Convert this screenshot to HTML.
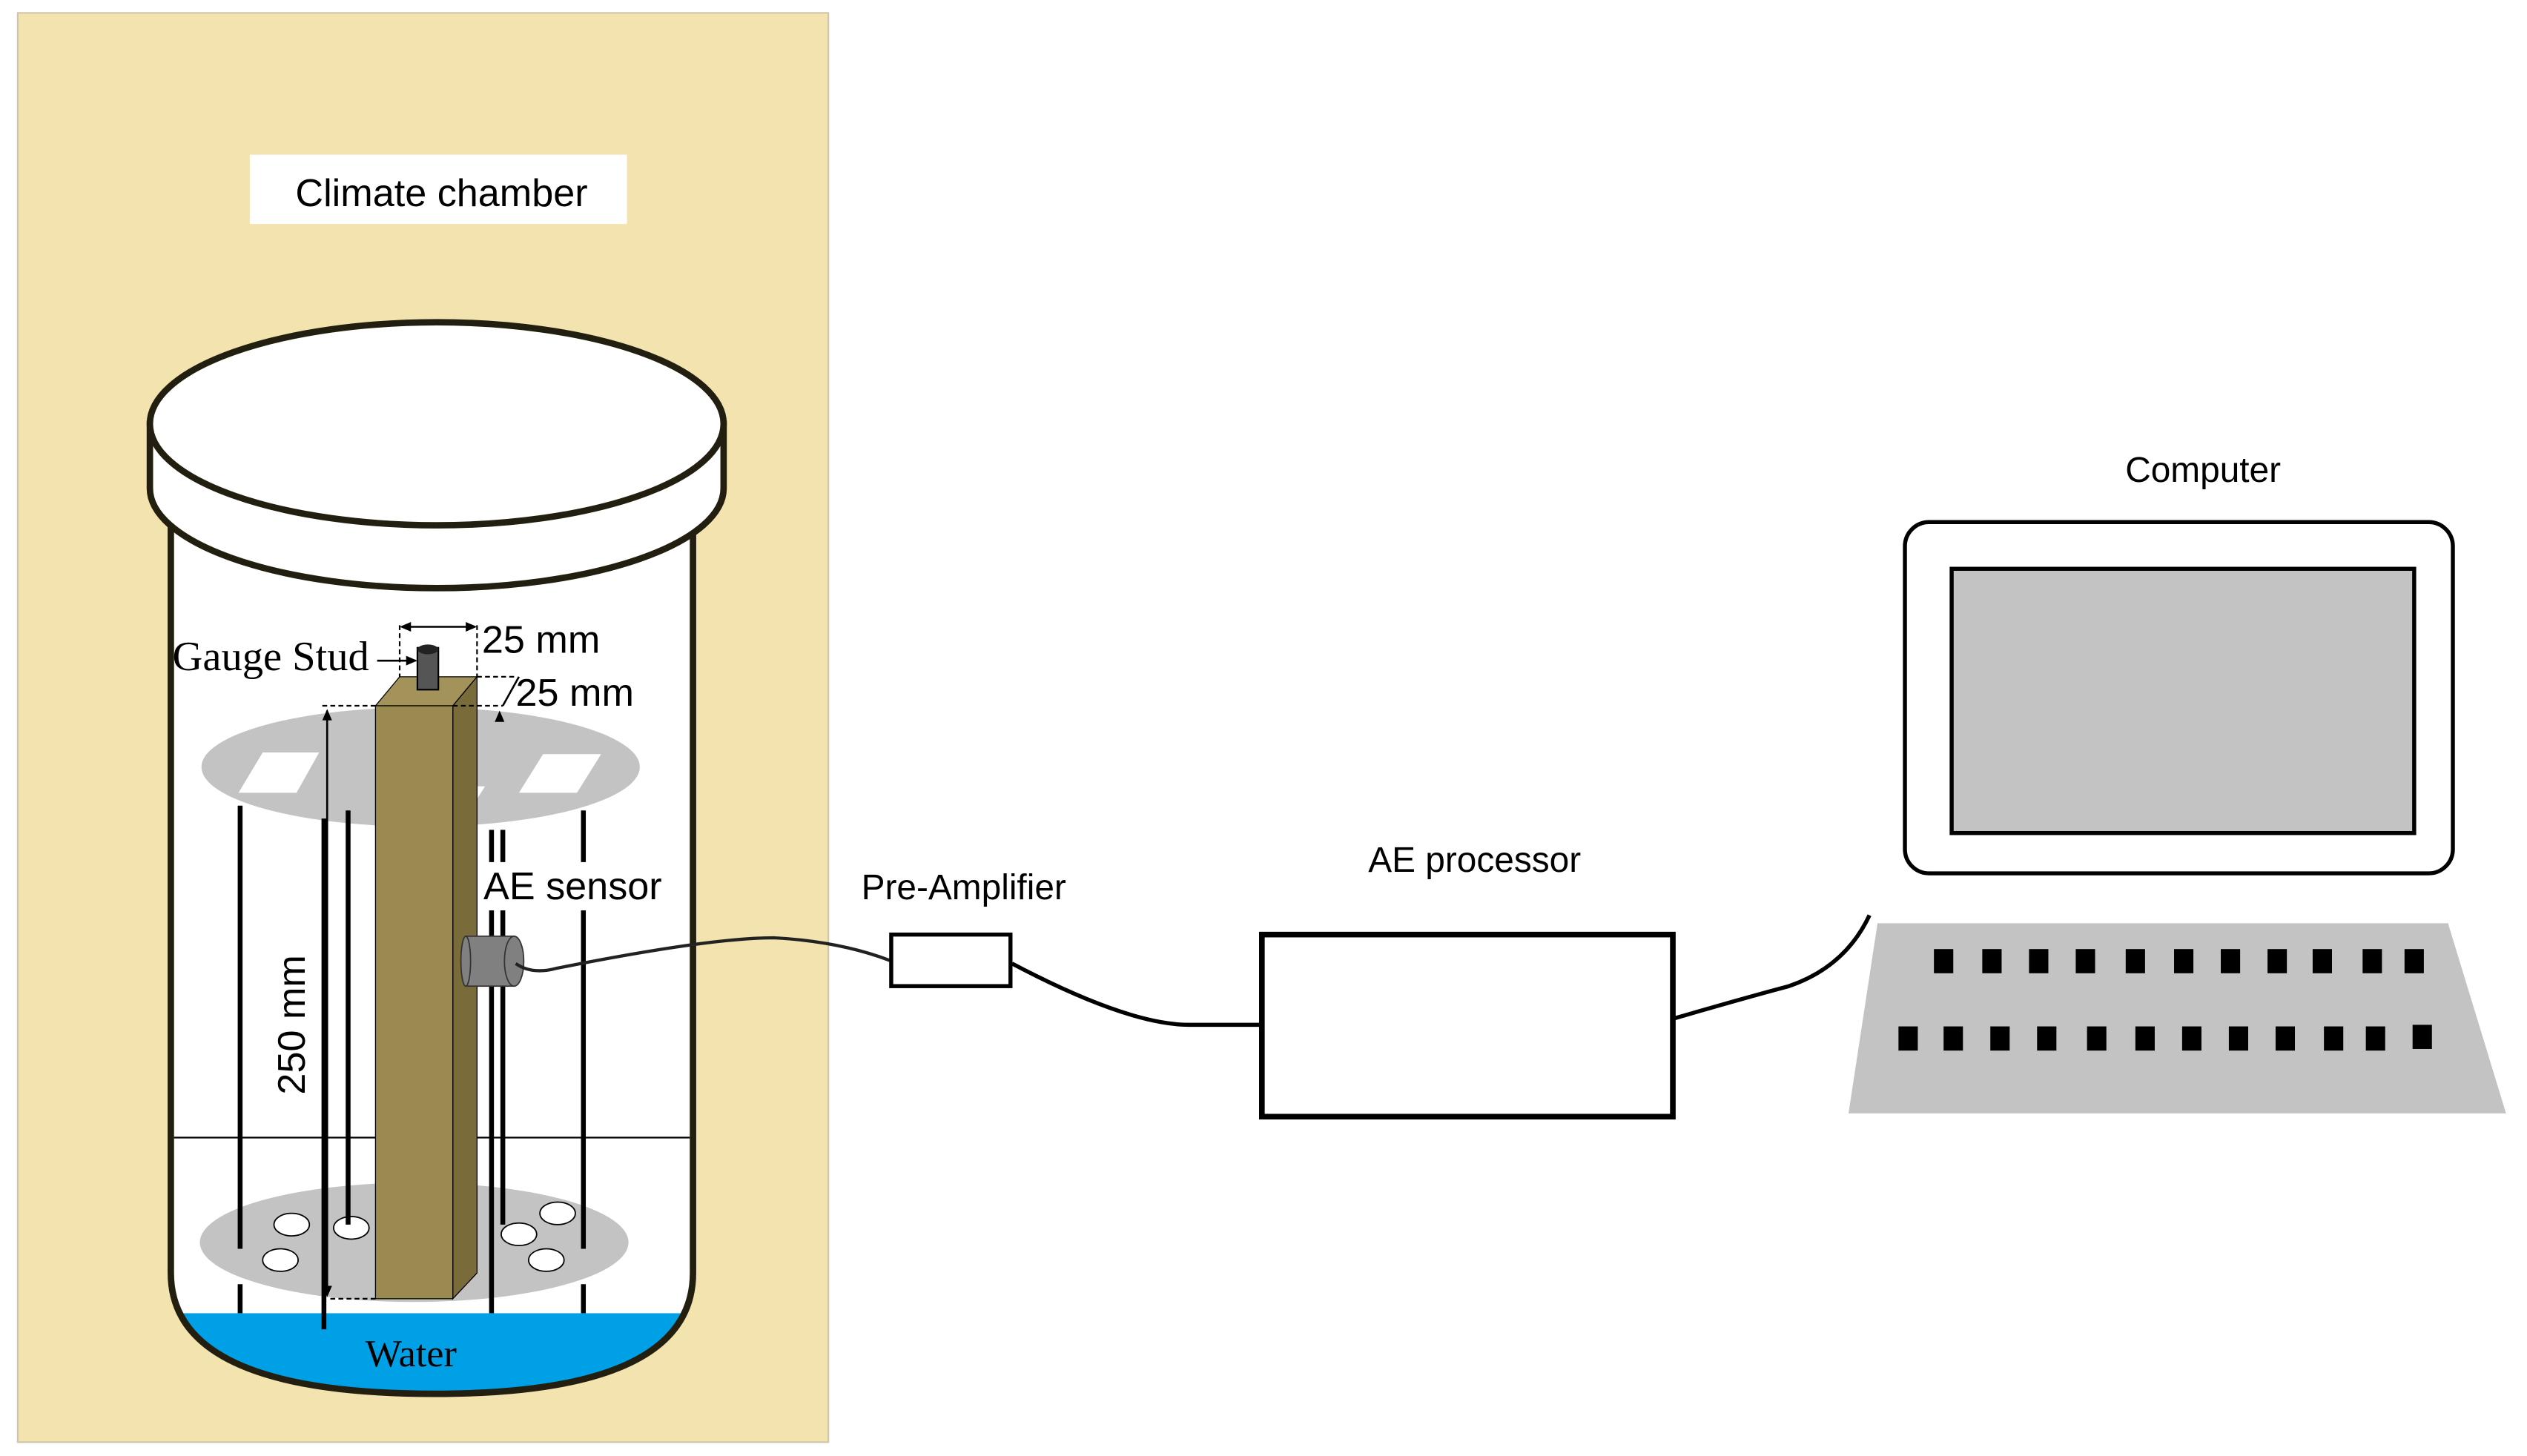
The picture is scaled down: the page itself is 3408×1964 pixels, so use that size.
<!DOCTYPE html>
<html><head><meta charset="utf-8"><style>
html,body{margin:0;padding:0;background:#fff;}
svg{display:block;}
text{font-family:"Liberation Sans",sans-serif;fill:#000;}
.serif{font-family:"Liberation Serif",serif;}
</style></head><body>
<svg width="3408" height="1964" viewBox="0 0 1568 903.6" preserveAspectRatio="none" xmlns="http://www.w3.org/2000/svg">
<defs><clipPath id="jar"><path d="M106,320 L106,790 Q106,865 270,865 Q430,865 430,790 L430,320 Z"/></clipPath></defs>
<rect x="0" y="0" width="1568" height="904" fill="#fff"/>
<rect x="11" y="8" width="503" height="887" fill="#f3e3ae" stroke="#cfc6a8" stroke-width="1"/>
<rect x="155" y="96" width="234" height="43" fill="#fff"/>
<text x="274" y="128" font-size="24" text-anchor="middle">Climate chamber</text>

<path d="M106,320 L106,790 Q106,865 270,865 Q430,865 430,790 L430,320 Z" fill="#fff"/>
<rect x="100" y="815" width="340" height="60" fill="#00a0e6" clip-path="url(#jar)"/>
<path d="M106,320 L106,790 Q106,865 270,865 Q430,865 430,790 L430,320" fill="none" stroke="#231f10" stroke-width="4"/>
<line x1="108" y1="706" x2="428" y2="706" stroke="#000" stroke-width="1"/>

<path d="M93,263 L93,303 A178,62 0 0 0 449,303 L449,263 Z" fill="#fff" stroke="#231f10" stroke-width="4"/>
<ellipse cx="271" cy="263" rx="178" ry="63" fill="#fff" stroke="#231f10" stroke-width="4"/>

<ellipse cx="261" cy="476" rx="136" ry="37" fill="#c3c3c3"/>
<polygon points="163,467 198,467 184,492 148,492" fill="#fff"/>
<polygon points="337,468 373,468 358,492 322,492" fill="#fff"/>
<polygon points="254,488 301,488 287,510 240,510" fill="#fff"/>
<ellipse cx="257" cy="771" rx="133" ry="37" fill="#c3c3c3"/>
<g fill="#fff" stroke="#000" stroke-width="0.8">
<ellipse cx="181" cy="760" rx="11" ry="7"/><ellipse cx="174" cy="782" rx="11" ry="7"/>
<ellipse cx="218" cy="762" rx="11" ry="7"/><ellipse cx="322" cy="766" rx="11" ry="7"/>
<ellipse cx="346" cy="753" rx="11" ry="7"/><ellipse cx="339" cy="782" rx="11" ry="7"/>
</g>
<g stroke="#000" stroke-width="3">
<line x1="149" y1="500" x2="149" y2="775"/><line x1="149" y1="797" x2="149" y2="815"/>
<line x1="216" y1="503" x2="216" y2="760"/><line x1="201" y1="508" x2="201" y2="825"/>
<line x1="305" y1="515" x2="305" y2="535"/><line x1="312" y1="515" x2="312" y2="535"/>
<line x1="305" y1="565" x2="305" y2="815"/><line x1="312" y1="565" x2="312" y2="760"/>
<line x1="362" y1="503" x2="362" y2="535"/><line x1="362" y1="565" x2="362" y2="775"/><line x1="362" y1="797" x2="362" y2="815"/>
</g>
<polygon points="233,438 248,420 296,420 281,438" fill="#a3935a" stroke="#000" stroke-width="0.6"/>
<polygon points="281,438 296,420 296,790 281,806" fill="#7a6c3a" stroke="#000" stroke-width="0.6"/>
<rect x="233" y="438" width="48" height="368" fill="#9a8a50" stroke="#000" stroke-width="0.6"/>
<rect x="259" y="402" width="13" height="26" fill="#555" stroke="#000"/>
<ellipse cx="265.5" cy="403" rx="6.5" ry="3" fill="#222"/>
<g stroke="#000" stroke-width="1" stroke-dasharray="3,2" fill="none">
<line x1="248" y1="388" x2="248" y2="420"/><line x1="296" y1="388" x2="296" y2="420"/>
<line x1="296" y1="420" x2="320" y2="420"/><line x1="200" y1="438" x2="233" y2="438"/>
<line x1="281" y1="438" x2="312" y2="438"/><line x1="205" y1="806" x2="233" y2="806"/>
</g>
<g stroke="#000" stroke-width="1.2">
<line x1="250" y1="389" x2="294" y2="389"/><line x1="203" y1="441" x2="203" y2="803"/>
<line x1="234" y1="410" x2="258" y2="410"/><line x1="312" y1="438" x2="322" y2="420"/>
</g>
<g fill="#000">
<polygon points="248,389 255,386 255,392"/><polygon points="296,389 289,386 289,392"/>
<polygon points="259,410 252,407 252,413"/>
<polygon points="203,440 200,447 206,447"/><polygon points="203,805 200,798 206,798"/>
<polygon points="310,441 307,448 313,448"/>
</g>
<text class="serif" x="107" y="416" font-size="26">Gauge Stud</text>
<text x="299" y="405" font-size="24">25 mm</text>
<text x="320" y="438" font-size="24">25 mm</text>
<text x="300" y="558" font-size="24">AE sensor</text>
<text x="0" y="0" font-size="24" text-anchor="middle" transform="translate(189,636) rotate(-90)">250 mm</text>
<text class="serif" x="255" y="848" font-size="24" text-anchor="middle">Water</text>

<rect x="289" y="581" width="30" height="31" fill="#808080" stroke="#333" stroke-width="0.8"/>
<ellipse cx="289" cy="596.5" rx="3" ry="15.5" fill="#808080" stroke="#333" stroke-width="0.8"/>
<ellipse cx="319" cy="596.5" rx="6" ry="15.5" fill="#808080" stroke="#333" stroke-width="0.8"/>
<path d="M320,598 Q330,605 345,601 Q440,582 480,582 Q520,584 552,596" fill="none" stroke="#222" stroke-width="2"/>

<rect x="553" y="580" width="74" height="32" fill="#fff" stroke="#000" stroke-width="2.5"/>
<path d="M628,598 Q700,636 738,636 L783,636" fill="none" stroke="#000" stroke-width="2.5"/>
<rect x="783" y="580" width="255" height="113" fill="#fff" stroke="#000" stroke-width="3.5"/>
<path d="M1039,632 Q1080,620 1110,612 Q1145,600 1160,568" fill="none" stroke="#000" stroke-width="2.5"/>
<text x="598" y="558" font-size="22" text-anchor="middle">Pre-Amplifier</text>
<text x="915" y="541" font-size="22" text-anchor="middle">AE processor</text>
<text x="1367" y="299" font-size="22" text-anchor="middle">Computer</text>

<rect x="1182" y="324" width="340" height="218" rx="15" fill="#fff" stroke="#000" stroke-width="2.5"/>
<rect x="1211" y="353" width="287" height="164" fill="#c3c3c3" stroke="#000" stroke-width="2.5"/>
<polygon points="1165,573 1519,573 1555,691 1147,691" fill="#c3c3c3"/>
<g fill="#000">
<rect x="1200" y="589" width="12" height="15"/><rect x="1230" y="589" width="12" height="15"/>
<rect x="1259" y="589" width="12" height="15"/><rect x="1288" y="589" width="12" height="15"/>
<rect x="1319" y="589" width="12" height="15"/><rect x="1349" y="589" width="12" height="15"/>
<rect x="1378" y="589" width="12" height="15"/><rect x="1407" y="589" width="12" height="15"/>
<rect x="1435" y="589" width="12" height="15"/><rect x="1466" y="589" width="12" height="15"/>
<rect x="1492" y="589" width="12" height="15"/>
<rect x="1178" y="637" width="12" height="15"/><rect x="1206" y="637" width="12" height="15"/>
<rect x="1235" y="637" width="12" height="15"/><rect x="1264" y="637" width="12" height="15"/>
<rect x="1295" y="637" width="12" height="15"/><rect x="1325" y="637" width="12" height="15"/>
<rect x="1354" y="637" width="12" height="15"/><rect x="1383" y="637" width="12" height="15"/>
<rect x="1412" y="637" width="12" height="15"/><rect x="1442" y="637" width="12" height="15"/>
<rect x="1468" y="637" width="12" height="15"/><rect x="1497" y="636" width="12" height="15"/>
</g>
</svg>
</body></html>
